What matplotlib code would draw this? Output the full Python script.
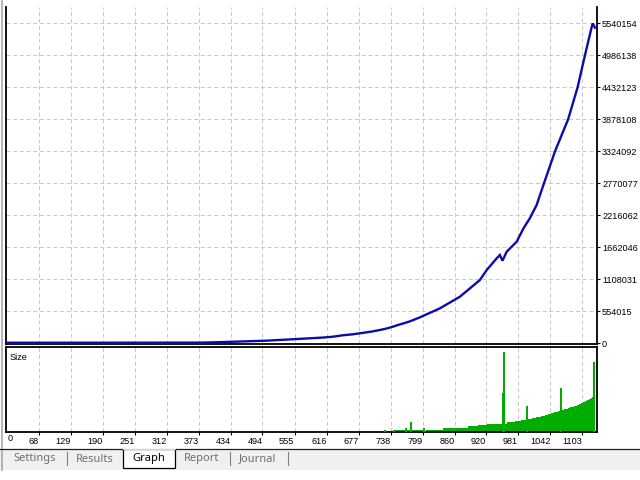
import matplotlib
matplotlib.use("Agg")
import matplotlib.pyplot as plt
from matplotlib.patches import Rectangle
from matplotlib.lines import Line2D

# ---------------- data ----------------
# balance curve: trade index -> balance
eq_idx = [0, 200, 380, 420, 500, 550, 585, 610, 628, 646, 666, 688, 705, 720, 732,
          742, 752, 763, 775, 794, 832, 870, 908, 921, 940, 946, 951, 959, 978, 991,
          1003, 1016, 1021, 1030, 1051, 1076, 1094, 1108, 1121, 1123, 1127]
eq_val = [10000, 10500, 12000, 22000, 45000, 69000, 87000, 100000, 114000, 138000,
          156000, 184000, 208000, 235000, 260000, 287000, 317000, 346000, 381000,
          450000, 606000, 807000, 1096000, 1269000, 1472000, 1529000, 1430000,
          1586000, 1759000, 1991000, 2164000, 2394000, 2530000, 2770077, 3324092,
          3878108, 4432123, 4986138, 5481000, 5540154, 5464000]

# size panel: stepped lot sizes (start trade, end trade, size)
size_start = [747, 805, 837, 864, 885, 904, 921, 937, 951, 960, 975, 986, 995, 1007,
              1015, 1024, 1031, 1037, 1044, 1050, 1056, 1063, 1069, 1075, 1080, 1087,
              1092, 1096, 1100, 1104, 1108, 1112, 1116, 1120, 1122]
size_end = [800, 837, 864, 885, 904, 921, 937, 951, 960, 975, 986, 995, 1007, 1015,
            1024, 1031, 1037, 1044, 1050, 1056, 1063, 1069, 1075, 1080, 1087, 1092,
            1096, 1100, 1104, 1108, 1112, 1116, 1120, 1122, 1127]
size_val = [1.3, 2.5, 3.8, 5.0, 6.3, 7.6, 8.8, 10.0, 10.0, 11.3, 12.6, 13.9, 15.1,
            16.4, 17.7, 18.9, 20.2, 21.4, 22.7, 24.0, 25.2, 26.5, 27.7, 29.0, 30.3,
            31.5, 32.8, 34.0, 35.3, 37.0, 38.2, 39.5, 40.8, 42.0, 43.3]
# single-trade spikes
spike_at = [728, 745, 768, 777.5, 802, 952, 954, 998, 1063, 1125.6]
spike_val = [2.5, 2.5, 3.8, 11.3, 5.0, 48.8, 100.0, 31.5, 54.6, 87.4]

x_ticks = [68, 129, 190, 251, 312, 373, 434, 494, 555, 616, 677, 738, 799, 860, 920,
           981, 1042, 1103]
y_ticks = [0, 554015, 1108031, 1662046, 2216062, 2770077, 3324092, 3878108, 4432123,
           4986138, 5540154]
tab_names = ["Settings", "Results", "Graph", "Report", "Journal"]

# ---------------- figure ----------------
W, H = 640, 480
fig = plt.figure(figsize=(6.4, 4.8), dpi=100)
fig.patch.set_facecolor("white")

def fx(px):
    return px / W

def fy(py):
    return 1 - py / H

FONT = "Liberation Sans"
GRID = dict(color="#c8c8c8", linewidth=0.72, dashes=(4, 2.7))
XMIN, XMAX = 5.7, 1130
GREEN = "#00ad00"

# main panel
L, R = 6, 596.5
ax = fig.add_axes([fx(L), fy(344), fx(R - L), fy(6.7) - fy(344)])
ax.set_xlim(XMIN, XMAX)
ax.set_ylim(-12100, 5827560)
for xt in x_ticks:
    ax.axvline(xt, zorder=0, **GRID)
for yt in y_ticks[1:]:
    ax.axhline(yt, zorder=0, **GRID)
ax.plot(eq_idx, eq_val, color="#0c0caa", linewidth=1.7, solid_joinstyle="miter", zorder=3)
ax.set_xticks([])
ax.yaxis.tick_right()
ax.set_yticks(y_ticks)
ax.set_yticklabels([str(v) for v in y_ticks], fontsize=6.6, family=FONT)
ax.tick_params(axis="y", direction="out", length=2.5, width=0.8, pad=1.5, colors="black")
ax.spines["top"].set_visible(False)
for s in ["left", "right", "bottom"]:
    ax.spines[s].set_linewidth(1.3)
    ax.spines[s].set_color("black")
ax.set_facecolor("white")

# size panel
ax2 = fig.add_axes([fx(L), fy(431.5), fx(R - L), fy(346.7) - fy(431.5)])
ax2.set_xlim(XMIN, XMAX)
ax2.set_ylim(0, 106.3)
for xt in x_ticks:
    ax2.axvline(xt, zorder=0, **GRID)
ax2.bar(size_start, size_val, width=[e - s for s, e in zip(size_start, size_end)],
        align="edge", color=GREEN, linewidth=0, zorder=2)
ax2.vlines(spike_at, 0, spike_val, colors=GREEN, linewidth=1.1, antialiased=False, zorder=3)
ax2.set_yticks([])
ax2.set_xticks(x_ticks)
ax2.set_xticklabels([str(v) for v in x_ticks], fontsize=6.6, family=FONT, ha="right")
ax2.tick_params(axis="x", direction="out", length=2.5, width=0.8, pad=1.5, colors="black")
for s in ax2.spines.values():
    s.set_linewidth(1.3)
    s.set_color("black")
ax2.text(0.006, 0.93, "Size", transform=ax2.transAxes, fontsize=6.6, family=FONT,
         va="top", ha="left")
fig.text(fx(7.5), fy(438.5), "0", fontsize=6.6, family=FONT, ha="left", va="center")

# left window border
fig.add_artist(Line2D([fx(1.5), fx(1.5)], [fy(0), fy(470)], color="#a8a8a8", linewidth=1.2))

# tab bar
fig.add_artist(Rectangle((0, fy(470)), 1, fy(449) - fy(470), transform=fig.transFigure,
                         facecolor="#f0f0f0", edgecolor="none", zorder=1))
fig.add_artist(Line2D([0, 1], [fy(449), fy(449)], color="#202020", linewidth=0.9, zorder=2))
fig.add_artist(Rectangle((fx(123), fy(468)), fx(52), fy(449) - fy(468),
                         transform=fig.transFigure, facecolor="white", edgecolor="black",
                         linewidth=0.9, zorder=3))
fig.add_artist(Line2D([fx(123.5), fx(174.5)], [fy(449), fy(449)], color="white",
                      linewidth=1.2, zorder=4))
tab_x = [35, 95, 149, 202, 258]
for name, xc in zip(tab_names, tab_x):
    fig.text(fx(xc), fy(459), name, fontsize=8, family="Noto Sans", ha="center", va="center",
             color="black" if name == "Graph" else "#707070", zorder=5)
for xs in [67, 230, 288]:
    fig.add_artist(Line2D([fx(xs), fx(xs)], [fy(452), fy(465)], color="#808080",
                          linewidth=0.8, zorder=5))

fig.savefig("out.png", dpi=100, facecolor="white")
